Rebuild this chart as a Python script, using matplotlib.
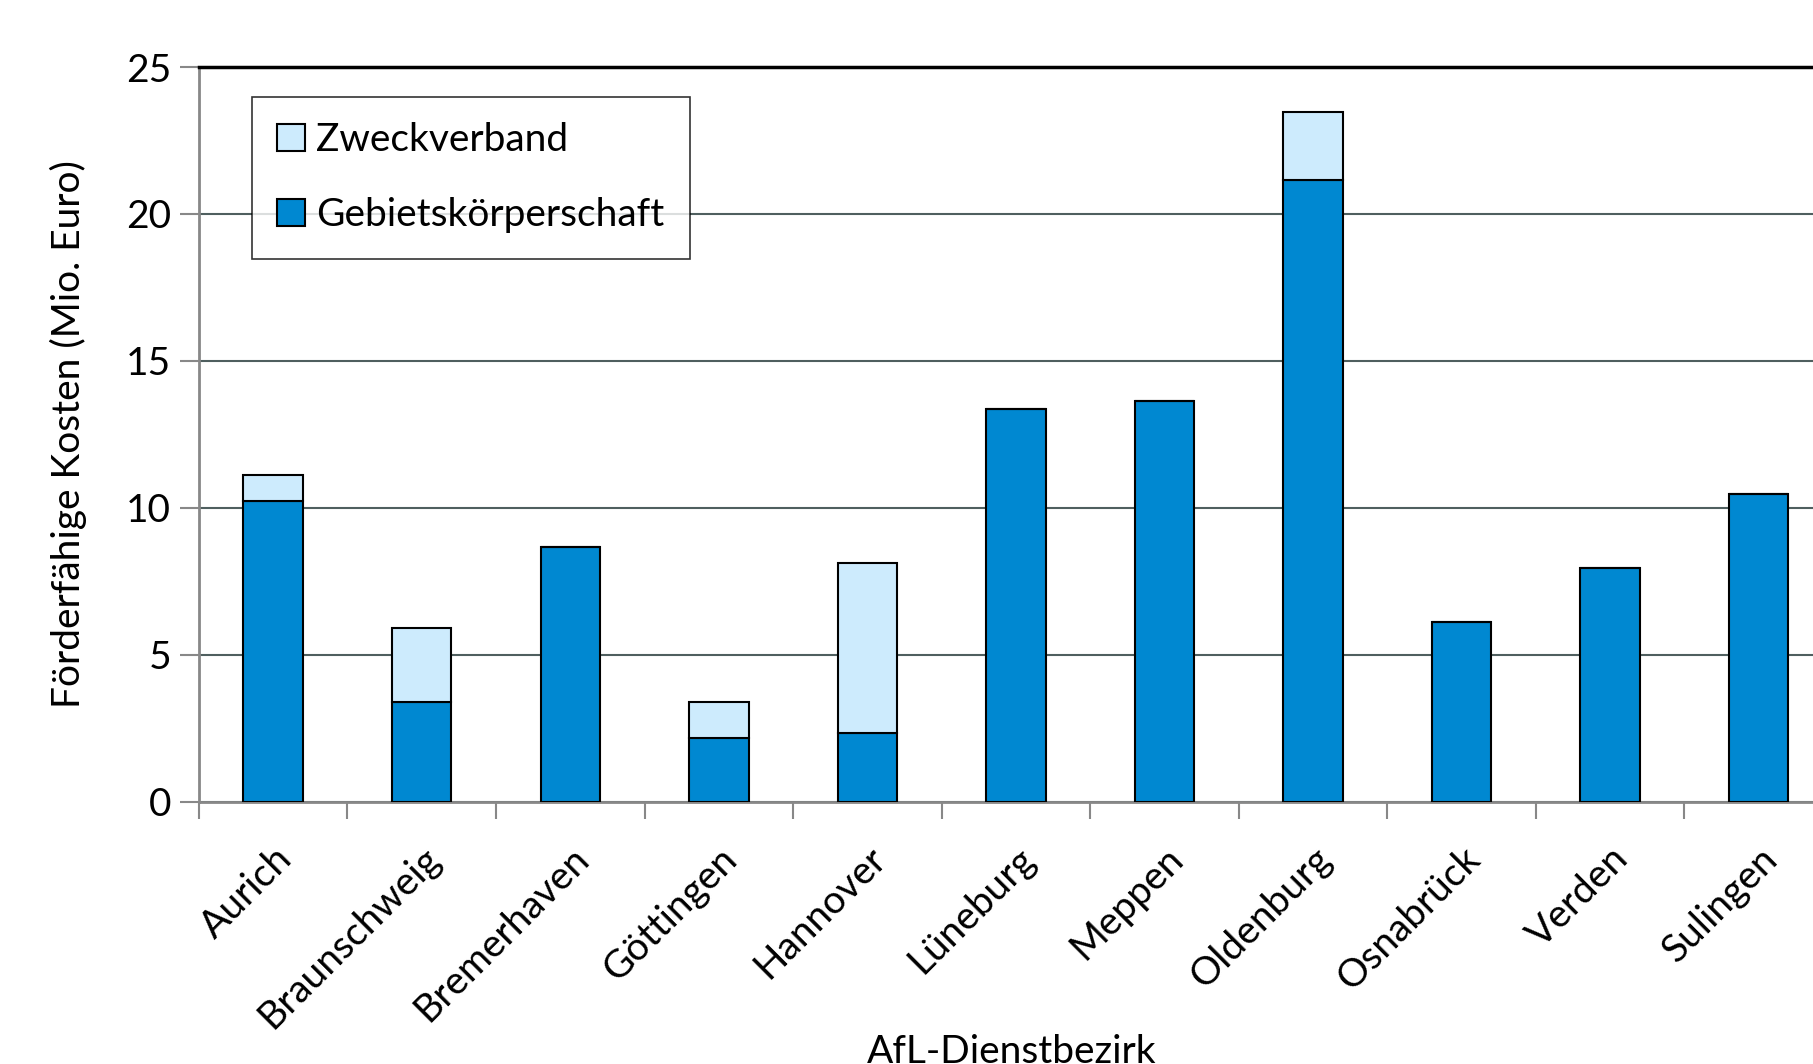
import numpy as np
import matplotlib.pyplot as plt

plt.rcParams['font.family'] = ['Lato', 'DejaVu Sans']

bezirke = ['Aurich', 'Braunschweig', 'Bremerhaven', 'Göttingen', 'Hannover', 'Lüneburg',
           'Meppen', 'Oldenburg', 'Osnabrück', 'Verden', 'Sulingen']
gebiet = [10.24, 3.39, 8.66, 2.17, 2.32, 13.35, 13.62, 21.14, 6.10, 7.95, 10.47]
zweck = [0.86, 2.52, 0.0, 1.22, 5.79, 0.0, 0.0, 2.32, 0.0, 0.0, 0.0]
yticks = [0, 5, 10, 15, 20, 25]

fig = plt.figure(figsize=(18.13, 10.64), dpi=100)
# Plotbereich geht rechts über den Bildrand hinaus (wie im Original abgeschnitten)
ax = fig.add_axes([0.1097, 0.2467, 1.093 - 0.1097, 0.937 - 0.2467])

x = np.arange(len(bezirke))
dark = '#0088d1'
light = '#cdebfd'
ax.bar(x, gebiet, width=0.4, color=dark, edgecolor='black', linewidth=1.5,
       label='Gebietskörperschaft', zorder=3)
ax.bar(x, zweck, width=0.4, bottom=gebiet, color=light, edgecolor='black',
       linewidth=1.5, label='Zweckverband', zorder=3)

ax.set_xlim(-0.5, 11.5)
ax.set_ylim(0, 25)
ax.set_yticks(yticks)
ax.yaxis.grid(True, color='#4f5f5f', linewidth=1.5, zorder=0)

ax.set_xticks(np.arange(-0.5, 11.6, 1.0))
ax.set_xticklabels([])
ax.set_xticks(x, minor=True)
ax.set_xticklabels(bezirke, minor=True, rotation=45, ha='right', va='top',
                   rotation_mode='anchor', fontsize=28)
ax.tick_params(axis='x', which='minor', length=0, pad=28)
ax.tick_params(axis='x', which='major', length=12, width=1.5, color='#888888',
               direction='out')
ax.tick_params(axis='y', length=14, width=1.5, color='#888888', labelsize=28, pad=6)

for side in ['left', 'bottom']:
    ax.spines[side].set_color('#888888')
    ax.spines[side].set_linewidth(2)
ax.spines['top'].set_color('black')
ax.spines['top'].set_linewidth(2.5)
ax.spines['right'].set_visible(False)

ax.set_ylabel('Förderfähige Kosten (Mio. Euro)', fontsize=28, labelpad=28)
ax.set_xlabel('AfL-Dienstbezirk', fontsize=28)
ax.xaxis.set_label_coords(0.456, -0.316)

h, l = ax.get_legend_handles_labels()
leg = ax.legend(h[::-1], l[::-1], loc='upper left', bbox_to_anchor=(0.0298, 0.959),
                fontsize=28, frameon=True, fancybox=False, edgecolor='black',
                handlelength=0.7, handleheight=0.7, handletextpad=0.3,
                labelspacing=1.0, borderpad=0.65, borderaxespad=0)
leg.get_frame().set_linewidth(1.2)

plt.savefig('out.png', dpi=100)
